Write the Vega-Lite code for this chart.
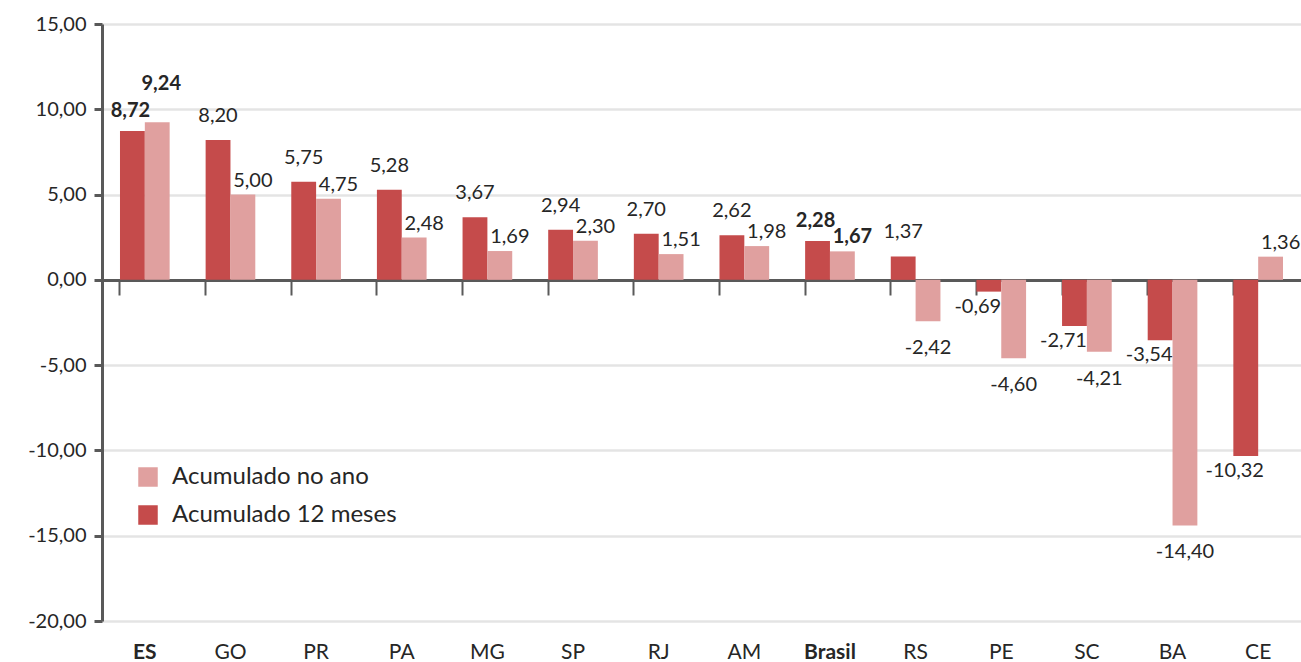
{
  "$schema": "https://vega.github.io/schema/vega-lite/v6.json",
  "width": 1199,
  "height": 597,
  "autosize": {"type": "none"},
  "padding": {"left": 102, "top": 24, "right": 0, "bottom": 41},
  "background": "white",
  "config": {
    "locale": {"number": {"decimal": ",", "thousands": ".", "grouping": [3], "currency": ["", ""], "minus": "-"}},
    "view": {"stroke": null},
    "font": "Lato",
    "text": {"font": "Lato", "fontSize": 20, "color": "#262626"}
  },
  "data": {
    "values": [
      {"uf": "ES", "serie": "Acumulado 12 meses", "valor": 8.72},
      {"uf": "ES", "serie": "Acumulado no ano", "valor": 9.24},
      {"uf": "GO", "serie": "Acumulado 12 meses", "valor": 8.20},
      {"uf": "GO", "serie": "Acumulado no ano", "valor": 5.00},
      {"uf": "PR", "serie": "Acumulado 12 meses", "valor": 5.75},
      {"uf": "PR", "serie": "Acumulado no ano", "valor": 4.75},
      {"uf": "PA", "serie": "Acumulado 12 meses", "valor": 5.28},
      {"uf": "PA", "serie": "Acumulado no ano", "valor": 2.48},
      {"uf": "MG", "serie": "Acumulado 12 meses", "valor": 3.67},
      {"uf": "MG", "serie": "Acumulado no ano", "valor": 1.69},
      {"uf": "SP", "serie": "Acumulado 12 meses", "valor": 2.94},
      {"uf": "SP", "serie": "Acumulado no ano", "valor": 2.30},
      {"uf": "RJ", "serie": "Acumulado 12 meses", "valor": 2.70},
      {"uf": "RJ", "serie": "Acumulado no ano", "valor": 1.51},
      {"uf": "AM", "serie": "Acumulado 12 meses", "valor": 2.62},
      {"uf": "AM", "serie": "Acumulado no ano", "valor": 1.98},
      {"uf": "Brasil", "serie": "Acumulado 12 meses", "valor": 2.28},
      {"uf": "Brasil", "serie": "Acumulado no ano", "valor": 1.67},
      {"uf": "RS", "serie": "Acumulado 12 meses", "valor": 1.37},
      {"uf": "RS", "serie": "Acumulado no ano", "valor": -2.42},
      {"uf": "PE", "serie": "Acumulado 12 meses", "valor": -0.69},
      {"uf": "PE", "serie": "Acumulado no ano", "valor": -4.60},
      {"uf": "SC", "serie": "Acumulado 12 meses", "valor": -2.71},
      {"uf": "SC", "serie": "Acumulado no ano", "valor": -4.21},
      {"uf": "BA", "serie": "Acumulado 12 meses", "valor": -3.54},
      {"uf": "BA", "serie": "Acumulado no ano", "valor": -14.40},
      {"uf": "CE", "serie": "Acumulado 12 meses", "valor": -10.32},
      {"uf": "CE", "serie": "Acumulado no ano", "valor": 1.36}
    ]
  },
  "resolve": {"axis": {"x": "independent"}},
  "encoding": {
    "x": {
      "field": "uf", "type": "nominal", "sort": null,
      "scale": {"paddingInner": 0.42, "paddingOuter": 0.21}
    },
    "xOffset": {"field": "serie", "type": "nominal", "sort": ["Acumulado 12 meses", "Acumulado no ano"]},
    "y": {
      "field": "valor", "type": "quantitative",
      "scale": {"domain": [-20, 15], "nice": false, "zero": false},
      "axis": {
        "values": [-20, -15, -10, -5, 0, 5, 10, 15],
        "title": null,
        "format": ".2f",
        "labelFont": "Lato", "labelFontSize": 20, "labelColor": "#262626",
        "labelPadding": 8,
        "domainColor": "#595959", "domainWidth": 3,
        "tickColor": "#595959", "tickWidth": 3, "tickSize": 8,
        "gridColor": "#E4E4E4", "gridWidth": 2.5
      }
    },
    "text": {"field": "valor", "type": "quantitative", "format": ".2f"}
  },
  "layer": [
    {
      "mark": {"type": "bar"},
      "encoding": {
        "x": {
          "field": "uf", "type": "nominal", "sort": null,
          "axis": {
            "title": null, "labels": false, "offset": -341, "orient": "bottom",
            "domainColor": "#595959", "domainWidth": 3,
            "ticks": true, "bandPosition": 0, "tickSize": 15, "tickWidth": 2, "tickColor": "#595959",
            "grid": false
          }
        },
        "text": null,
        "color": {
          "field": "serie", "type": "nominal",
          "scale": {"domain": ["Acumulado no ano", "Acumulado 12 meses"], "range": ["#E0A09F", "#C54B4B"]},
          "legend": {
            "title": null, "orient": "none", "legendX": 34, "legendY": 441,
            "symbolType": "square", "symbolSize": 380, "symbolStrokeWidth": 0,
            "labelFont": "Lato", "labelFontSize": 24, "labelColor": "#262626", "labelLimit": 400,
            "rowPadding": 14, "labelOffset": 12
          }
        }
      }
    },
    {
      "transform": [{"filter": "datum.valor >= 0 && datum.serie === 'Acumulado 12 meses' && datum.uf !== 'ES' && datum.uf !== 'Brasil'"}],
      "mark": {"type": "text", "baseline": "bottom", "dy": -14},
      "encoding": {
        "x": {
          "field": "uf", "type": "nominal", "sort": null,
          "axis": {
            "title": null, "domain": false, "ticks": false, "grid": false, "orient": "bottom",
            "labelFont": "Lato", "labelFontSize": 21, "labelColor": "#262626",
            "labelPadding": 20, "labelAngle": 0,
            "labelFontWeight": {"condition": {"test": "datum.value === 'ES' || datum.value === 'Brasil'", "value": "bold"}, "value": "normal"}
          }
        }
      }
    },
    {
      "transform": [{"filter": "datum.valor >= 0 && datum.serie === 'Acumulado 12 meses' && (datum.uf === 'ES' || datum.uf === 'Brasil')"}],
      "mark": {"type": "text", "baseline": "bottom", "dy": -10, "dx": -2, "fontWeight": "bold"},
      "encoding": {"x": {"field": "uf", "type": "nominal", "sort": null, "axis": null}}
    },
    {
      "transform": [{"filter": "datum.valor >= 0 && datum.serie === 'Acumulado no ano' && datum.uf !== 'ES' && datum.uf !== 'Brasil'"}],
      "mark": {"type": "text", "baseline": "bottom", "dy": -4, "dx": 10},
      "encoding": {"x": {"field": "uf", "type": "nominal", "sort": null, "axis": null}}
    },
    {
      "transform": [{"filter": "datum.serie === 'Acumulado no ano' && datum.uf === 'ES'"}],
      "mark": {"type": "text", "baseline": "bottom", "dy": -28, "dx": 4, "fontWeight": "bold"},
      "encoding": {"x": {"field": "uf", "type": "nominal", "sort": null, "axis": null}}
    },
    {
      "transform": [{"filter": "datum.serie === 'Acumulado no ano' && datum.uf === 'Brasil'"}],
      "mark": {"type": "text", "baseline": "bottom", "dy": -4, "dx": 10, "fontWeight": "bold"},
      "encoding": {"x": {"field": "uf", "type": "nominal", "sort": null, "axis": null}}
    },
    {
      "transform": [{"filter": "datum.valor < 0 && datum.serie === 'Acumulado 12 meses'"}],
      "mark": {"type": "text", "baseline": "top", "dy": 5, "dx": -11},
      "encoding": {"x": {"field": "uf", "type": "nominal", "sort": null, "axis": null}}
    },
    {
      "transform": [{"filter": "datum.valor < 0 && datum.serie === 'Acumulado no ano'"}],
      "mark": {"type": "text", "baseline": "top", "dy": 17},
      "encoding": {"x": {"field": "uf", "type": "nominal", "sort": null, "axis": null}}
    }
  ]
}
